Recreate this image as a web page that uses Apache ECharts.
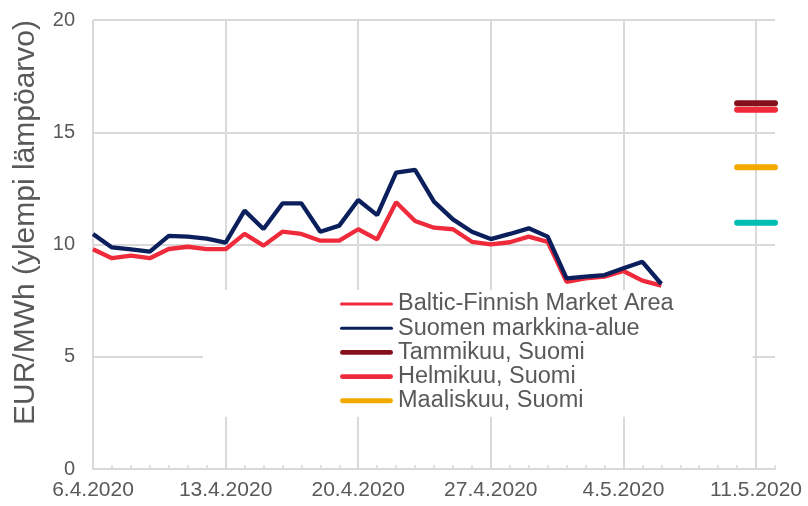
<!DOCTYPE html>
<html>
<head>
<meta charset="utf-8">
<script src="https://cdn.jsdelivr.net/npm/echarts@6/dist/echarts.min.js"></script>
<style>html,body{margin:0;padding:0;background:#fff}#c{width:808px;height:506px}</style>
</head>
<body>
<div id="c"></div>
<script>
const dates = ['6.4.2020','7.4.2020','8.4.2020','9.4.2020','10.4.2020','11.4.2020','12.4.2020',
  '13.4.2020','14.4.2020','15.4.2020','16.4.2020','17.4.2020','18.4.2020','19.4.2020',
  '20.4.2020','21.4.2020','22.4.2020','23.4.2020','24.4.2020','25.4.2020','26.4.2020',
  '27.4.2020','28.4.2020','29.4.2020','30.4.2020','1.5.2020','2.5.2020','3.5.2020',
  '4.5.2020','5.5.2020','6.5.2020','7.5.2020','8.5.2020','9.5.2020','10.5.2020','11.5.2020','12.5.2020'];
const balticFinnish = [9.79,9.39,9.50,9.39,9.80,9.90,9.79,9.79,10.47,9.95,10.57,10.47,10.17,10.17,
  10.68,10.23,11.88,11.05,10.75,10.68,10.12,10.01,10.10,10.35,10.12,8.34,8.49,8.57,8.82,8.39,8.17];
const suomi = [10.47,9.87,9.78,9.68,10.38,10.35,10.26,10.08,11.51,10.69,11.83,11.83,10.57,10.84,
  11.98,11.31,13.20,13.32,11.91,11.12,10.57,10.24,10.47,10.72,10.35,8.49,8.57,8.64,8.94,9.23,8.24];
const futureDates = ['10.5.2020','11.5.2020','12.5.2020'];
const tammikuu = [16.29,16.29,16.29];
const helmikuu = [16.0,16.0,16.0];
const maaliskuu = [13.44,13.44,13.44];
const huhtikuu = [10.97,10.97,10.97];
const yTicks = [0,5,10,15,20];

const gray = '#595959';
const gridC = '#d9d9d9';
const font = 'Liberation Sans, Arial, sans-serif';
const pair = (xs, ys) => xs.map((x, i) => [x, ys[i]]);
const thinIcon = 'path://M1.5,0 H51.5 A1.5,1.5 0 0 1 51.5,3 H1.5 A1.5,1.5 0 0 1 1.5,0 Z';
const thickIcon = 'path://M2.5,0 H51.5 A2.5,2.5 0 0 1 51.5,5 H2.5 A2.5,2.5 0 0 1 2.5,0 Z';

const chart = echarts.init(document.getElementById('c'), null, {renderer: 'canvas'});
chart.setOption({
  animation: false,
  backgroundColor: '#fff',
  textStyle: {fontFamily: font},
  grid: {left: 93, right: 33, top: 20, bottom: 37, containLabel: false, outerBoundsMode: 'none'},
  xAxis: {
    type: 'category', data: dates, boundaryGap: false,
    axisLine: {show: true, lineStyle: {color: gridC, width: 2}},
    axisTick: {show: true, inside: true, interval: 0, length: 4, lineStyle: {color: gridC, width: 1.5}},
    axisLabel: {interval: 6, color: gray, fontSize: 21, margin: 11, fontFamily: font},
    splitLine: {show: true, interval: 6, lineStyle: {color: gridC, width: 2}}
  },
  yAxis: {
    type: 'value', min: yTicks[0], max: yTicks[yTicks.length - 1], interval: 5,
    name: 'EUR/MWh (ylempi lämpöarvo)', nameLocation: 'middle', nameGap: 52, nameRotate: 90,
    nameTextStyle: {color: gray, fontSize: 30, fontFamily: font, padding: [0, 0, 0, 44]},
    axisLine: {show: false}, axisTick: {show: false},
    axisLabel: {color: gray, fontSize: 20, margin: 18, fontFamily: font},
    splitLine: {lineStyle: {color: gridC, width: 2}}
  },
  legend: {
    orient: 'vertical', left: 203, top: 290,
    padding: [2, 79, 4, 137],
    backgroundColor: '#fff',
    itemWidth: 53, itemHeight: 6, itemGap: 0.2,
    data: [
      {name: 'Baltic-Finnish Market Area', icon: thinIcon},
      {name: 'Suomen markkina-alue', icon: thinIcon},
      {name: 'Tammikuu, Suomi', icon: thickIcon},
      {name: 'Helmikuu, Suomi', icon: thickIcon},
      {name: 'Maaliskuu, Suomi', icon: thickIcon}
    ],
    textStyle: {color: gray, fontSize: 23.5, lineHeight: 22, fontFamily: font},
    z: 10
  },
  series: [
    {name: 'Baltic-Finnish Market Area', type: 'line', data: balticFinnish, symbol: 'none',
     lineStyle: {color: '#ee2a3b', width: 4.3}, itemStyle: {color: '#ee2a3b'}},
    {name: 'Suomen markkina-alue', type: 'line', data: suomi, symbol: 'none',
     lineStyle: {color: '#0b1f5c', width: 4.3}, itemStyle: {color: '#0b1f5c'}},
    {name: 'Tammikuu, Suomi', type: 'line', data: pair(futureDates, tammikuu), symbol: 'none',
     lineStyle: {color: '#84101b', width: 6, cap: 'round'}, itemStyle: {color: '#84101b'}},
    {name: 'Helmikuu, Suomi', type: 'line', data: pair(futureDates, helmikuu), symbol: 'none',
     lineStyle: {color: '#ee2a3b', width: 6, cap: 'round'}, itemStyle: {color: '#ee2a3b'}},
    {name: 'Maaliskuu, Suomi', type: 'line', data: pair(futureDates, maaliskuu), symbol: 'none',
     lineStyle: {color: '#f2a900', width: 6, cap: 'round'}, itemStyle: {color: '#f2a900'}},
    {name: 'Huhtikuu, Suomi', type: 'line', data: pair(futureDates, huhtikuu), symbol: 'none',
     lineStyle: {color: '#00bfb2', width: 6, cap: 'round'}, itemStyle: {color: '#00bfb2'}}
  ]
});
</script>
</body>
</html>
